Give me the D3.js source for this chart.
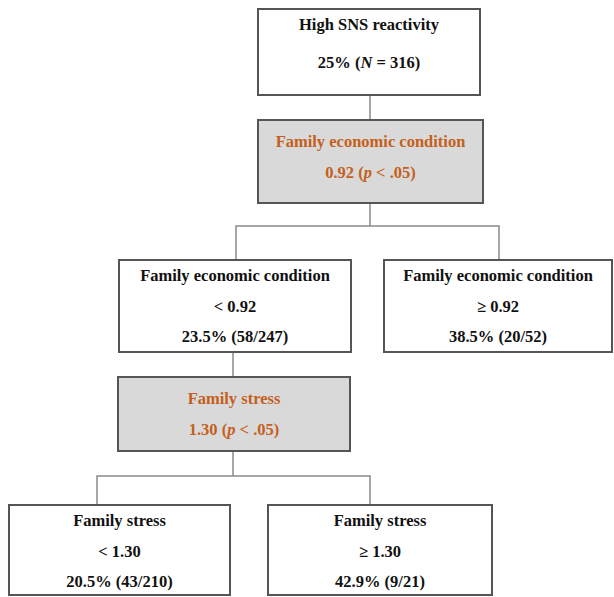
<!DOCTYPE html>
<html><head><meta charset="utf-8">
<script src="https://cdn.jsdelivr.net/npm/d3@7"></script>
<style>body{margin:0;background:#fff}svg{display:block}</style>
</head><body>
<svg id="chart" width="614" height="597"></svg>
<script>
// ---- data ----
const nodeIds = ["root", "split1", "econLow", "econHigh", "split2", "stressLow", "stressHigh"];
const nodeParents = [null, "root", "split1", "split1", "econLow", "split2", "split2"];
const nodeIsSplit = [false, true, false, false, true, false, false];
const nodeTitles = ["High SNS reactivity", "Family economic condition", "Family economic condition", "Family economic condition", "Family stress", "Family stress", "Family stress"];
const nodeConditions = [null, null, "< 0.92", "\u2265 0.92", null, "< 1.30", "\u2265 1.30"];
// rich text segments: [text, italic]
const nodeValues = [
  [["25% (", false], ["N", true], [" = 316)", false]],
  [["0.92 (", false], ["p", true], [" < .05)", false]],
  [["23.5% (58/247)", false]],
  [["38.5% (20/52)", false]],
  [["1.30 (", false], ["p", true], [" < .05)", false]],
  [["20.5% (43/210)", false]],
  [["42.9% (9/21)", false]]
];

// ---- layout (boxes: x0, y0, x1, y1) ----
const layout = {
  root:       [258, 9, 480, 95],
  split1:     [258, 120, 483, 203],
  econLow:    [119, 260, 351, 352],
  econHigh:   [384, 260, 612, 352],
  split2:     [118, 377, 350, 451],
  stressLow:  [9, 505, 230, 595],
  stressHigh: [268, 505, 492, 595]
};
const branchX = {split1: [236, 499], split2: [97, 370]};
const branchY = {split1: 226, split2: 476};
const stemX = {root: 370, split1: 370, econLow: 233, split2: 233};

const svg = d3.select("#chart");
const nodes = nodeIds.map((id, i) => ({
  id, parent: nodeParents[i], split: nodeIsSplit[i], title: nodeTitles[i],
  cond: nodeConditions[i], value: nodeValues[i], box: layout[id]
}));
const byId = Object.fromEntries(nodes.map(n => [n.id, n]));

const lineColor = "#8a8a8a", boxStroke = "#555", orange = "#c5601c";
const links = svg.append("g").attr("fill", "none").attr("stroke", lineColor).attr("stroke-width", 1.5);

nodes.forEach(n => {
  if (!n.parent) return;
  const p = byId[n.parent];
  const children = nodes.filter(c => c.parent === p.id);
  if (children.length === 1) {
    const x = stemX[p.id];
    links.append("line").attr("x1", x).attr("x2", x).attr("y1", p.box[3]).attr("y2", n.box[1]);
  }
});
Object.keys(branchX).forEach(pid => {
  const p = byId[pid];
  const y = branchY[pid];
  const [xa, xb] = branchX[pid];
  links.append("line").attr("x1", stemX[pid]).attr("x2", stemX[pid]).attr("y1", p.box[3]).attr("y2", y);
  const children = nodes.filter(c => c.parent === pid);
  links.append("path").attr("d", `M${xa},${children[0].box[1]}V${y}H${xb}V${children[1].box[1]}`);
});

const g = svg.selectAll("g.node").data(nodes).join("g").attr("class", "node");
g.append("rect")
  .attr("x", d => d.box[0]).attr("y", d => d.box[1])
  .attr("width", d => d.box[2] - d.box[0]).attr("height", d => d.box[3] - d.box[1])
  .attr("fill", d => d.split ? "#d9d9d9" : "#fff")
  .attr("stroke", boxStroke).attr("stroke-width", 2);

const font = "'Liberation Serif','Times New Roman',serif";
g.each(function(d) {
  const sel = d3.select(this);
  const cx = (d.box[0] + d.box[2]) / 2;
  const color = d.split ? orange : "#111";
  const lines = [];
  lines.push([[d.title, false]]);
  if (d.cond) lines.push([[d.cond, false]]);
  lines.push(d.value);
  const top = d.box[1];
  const offsets = d.split ? [27, 58] : (lines.length === 2 ? [21, 59] : [21, 52, 82]);
  lines.forEach((segs, k) => {
    const t = sel.append("text").attr("x", cx).attr("y", top + offsets[k])
      .attr("text-anchor", "middle").attr("font-family", font)
      .attr("font-weight", "bold").attr("font-size", 16.5).attr("fill", color);
    segs.forEach(([s, it]) => t.append("tspan").text(s).attr("font-style", it ? "italic" : null));
  });
});
</script>
</body></html>
